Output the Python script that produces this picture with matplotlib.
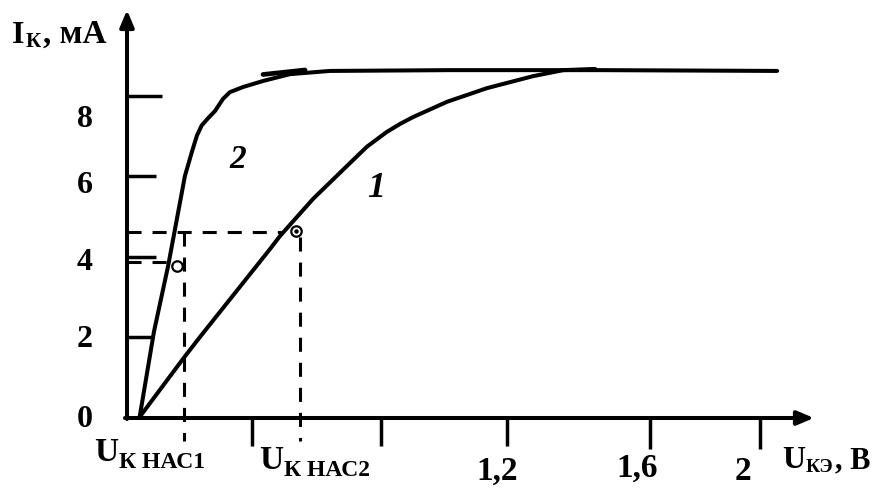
import matplotlib
matplotlib.use('Agg')
import matplotlib.pyplot as plt

W, H = 890, 489

# ---- data (U_КЭ in V, I_К in mA) ----
curve1_u = [0.04, 0.177, 0.231, 0.452, 0.483, 0.588, 0.695, 0.758, 0.821, 0.863, 0.904, 1.011, 1.137, 1.283, 1.378, 1.479]
curve1_i = [0.0, 1.45, 2.0, 4.19, 4.51, 5.44, 6.26, 6.74, 7.11, 7.31, 7.48, 7.86, 8.20, 8.50, 8.65, 8.68]

curve2_u = [0.04, 0.085, 0.130, 0.183, 0.205, 0.221, 0.236, 0.256, 0.278, 0.303, 0.325, 0.367, 0.430, 0.515, 0.641, 1.021, 1.494, 2.054]
curve2_i = [0.0, 2.12, 3.77, 6.01, 6.61, 7.02, 7.27, 7.45, 7.63, 7.93, 8.10, 8.23, 8.38, 8.55, 8.63, 8.65, 8.65, 8.63]

sat_u = [0.158, 0.534]          # saturation points (curve 2, curve 1)
sat_i = [3.77, 4.64]
dash_i = [3.87, 4.61]           # dashed projection levels
dash_u = [0.180, 0.547]         # dashed projection voltages

y_ticks = [2, 4, 6, 8]
y_tick_labels = ['2', '4', '6', '8']
x_ticks = [0.395, 0.803, 1.2, 1.652, 2.0]
x_tick_labels = ['', '', '1,2', '1,6', '2']

# ---- layout helpers ----
X0, Y0, SX, SY = 127, 418, 316.5, 40.1
def px2u(px): return (px - X0) / SX
def py2i(py): return (Y0 - py) / SY

fig = plt.figure(figsize=(W / 100, H / 100), dpi=100)
ax = fig.add_axes([0, 0, 1, 1])
ax.set_xlim(px2u(0), px2u(W))
ax.set_ylim(py2i(H), py2i(0))
ax.axis('off')

FONT = 'Liberation Serif'
LW = 2.9

def T(px, py, s, size, style='normal', ha='left', va='baseline'):
    fig.text(px / W, 1 - py / H, s, fontsize=size, fontfamily=FONT,
             fontweight='bold', fontstyle=style, ha=ha, va=va, color='black')

# axes with arrows
ax.annotate('', xy=(0, py2i(11)), xytext=(0, py2i(420)),
            arrowprops=dict(arrowstyle='-|>,head_length=1.0,head_width=0.42',
                            lw=LW, color='black', shrinkA=0, shrinkB=0))
ax.annotate('', xy=(px2u(814), py2i(419)), xytext=(px2u(125), py2i(419)),
            arrowprops=dict(arrowstyle='-|>,head_length=1.0,head_width=0.42',
                            lw=LW, color='black', shrinkA=0, shrinkB=0))

# y ticks (short lines to the right of the axis)
y_tick_len = [26, 29, 29, 35]
for v, L in zip(y_ticks, y_tick_len):
    ax.plot([0, px2u(X0 + L)], [v, v], color='black', lw=2.5, solid_capstyle='butt')

# x ticks (downwards)
x_tick_len = [28, 28, 28, 31, 31]
for v, L in zip(x_ticks, x_tick_len):
    ax.plot([v, v], [py2i(419), py2i(419 + L)], color='black', lw=2.5, solid_capstyle='butt')

# dashed projections
dstyle = dict(color='black', lw=2.2, linestyle=(0, (4.6, 3.6)), dash_capstyle='butt')
ax.plot([0, px2u(281)], [dash_i[1], dash_i[1]], **dstyle)
ax.plot([0, px2u(168)], [dash_i[0], dash_i[0]], **dstyle)
ax.plot([dash_u[0], dash_u[0]], [dash_i[1], py2i(442)], **dstyle)
ax.plot([dash_u[1], dash_u[1]], [py2i(238), py2i(442)], **dstyle)

# curves
ax.plot(curve1_u, curve1_i, color='black', lw=LW, solid_joinstyle='round', solid_capstyle='round')
ax.plot(curve2_u, curve2_i, color='black', lw=LW, solid_joinstyle='round', solid_capstyle='round')
# hand-drawn overlap stroke at the knee of curve 2
ax.plot([px2u(263), px2u(305)], [py2i(75.5), py2i(71)], color='black', lw=3.4, solid_capstyle='round')

# saturation points
ax.plot(sat_u, sat_i, 'o', ms=7.5, mfc='white', mec='black', mew=1.6)
ax.plot(sat_u[1:], sat_i[1:], 'o', ms=2.2, color='black')

# curve labels
T(229, 168, '2', 24, style='italic')
T(367, 197, '1', 26, style='italic')

# y tick labels
y_label_base = [347, 270, 193, 127]
for lab, b in zip(y_tick_labels, y_label_base):
    T(85, b, lab, 23, ha='center')
T(85, 427, '0', 23, ha='center')

# x tick labels
x_label_pos = [(0, 0), (0, 0), (476, 480), (616, 477), (735, 480)]
for lab, (px, b) in zip(x_tick_labels, x_label_pos):
    if lab:
        T(px, b, lab, 24)

# saturation voltage labels
T(94, 461, 'U', 24)
T(119, 468, 'К НАС1', 17)
T(259, 469, 'U', 24)
T(284, 476, 'К НАС2', 17)

# axis titles
T(12, 43, 'I', 23)
T(26, 47, 'К', 15)
T(43, 43, ', мА', 24)
T(782, 468, 'U', 23)
T(806, 472, 'КЭ', 14)
T(835, 468, ', В', 22)

fig.savefig('out.png', dpi=100)
